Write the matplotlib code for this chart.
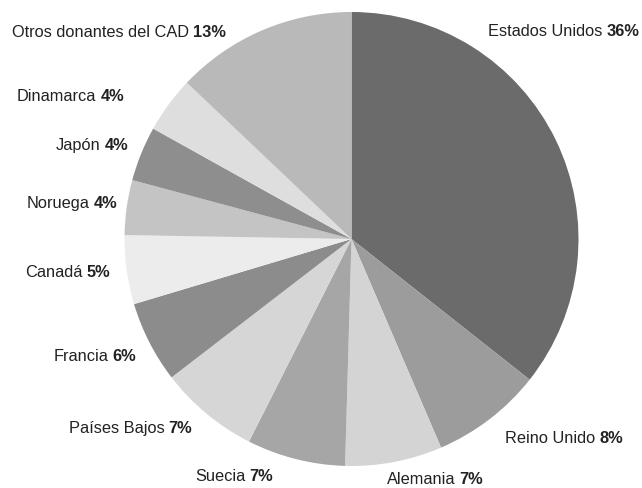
import matplotlib
matplotlib.use("Agg")
import matplotlib.pyplot as plt

# cuota de la ayuda por donante (sentido horario desde arriba)
donantes = ["Estados Unidos", "Reino Unido", "Alemania", "Suecia", "Países Bajos",
            "Francia", "Canadá", "Noruega", "Japón", "Dinamarca",
            "Otros donantes del CAD"]
cuota = [35.6, 7.9, 6.9, 7.0, 7.1, 5.8, 4.9, 3.9, 3.9, 4.0, 12.9]
grises = ["#6b6b6b", "#9c9c9c", "#d4d4d4", "#a6a6a6", "#d6d6d6", "#8c8c8c",
          "#ececec", "#c4c4c4", "#8e8e8e", "#dedede", "#b9b9b9"]

# donde va cada etiqueta (pixeles desde arriba-izquierda) y su alineacion
pos_etiq = [(488, 32, "left"), (505, 439, "left"), (387, 480, "left"),
            (273, 477, "right"), (192, 429, "right"), (136, 357, "right"),
            (110, 273, "right"), (117, 204, "right"), (128, 146, "right"),
            (124, 97, "right"), (226, 33, "right")]

W, H = 642, 489
fuente = ["Liberation Sans", "DejaVu Sans"]
tam = 11.8

fig = plt.figure(figsize=(W / 100, H / 100), dpi=100)
ax = fig.add_axes([0, 0, 1, 1])
ax.pie(cuota, colors=grises, startangle=90, counterclock=False,
       center=(351.5, H - 240), radius=227,
       wedgeprops=dict(linewidth=0))
ax.set_xlim(0, W)
ax.set_ylim(0, H)
ax.set_aspect("equal")
ax.axis("off")

fig.canvas.draw()
for nombre, v, (px, py, lado) in zip(donantes, cuota, pos_etiq):
    pct = "%d%%" % round(v)
    y = H - py
    if lado == "left":
        t = ax.text(px, y, nombre, ha="left", va="center", fontsize=tam,
                    family=fuente, color="#222222")
        ax.annotate(pct, xy=(1, 0), xycoords=t, xytext=(4, 0),
                    textcoords="offset pixels", ha="left", va="bottom",
                    fontsize=tam, family=fuente, fontweight="bold",
                    color="#222222")
    else:
        t = ax.text(px, y, pct, ha="right", va="center", fontsize=tam,
                    family=fuente, fontweight="bold", color="#222222")
        ax.annotate(nombre, xy=(0, 0), xycoords=t, xytext=(-4, 0),
                    textcoords="offset pixels", ha="right", va="bottom",
                    fontsize=tam, family=fuente, color="#222222")

fig.savefig("out.png", dpi=100)
